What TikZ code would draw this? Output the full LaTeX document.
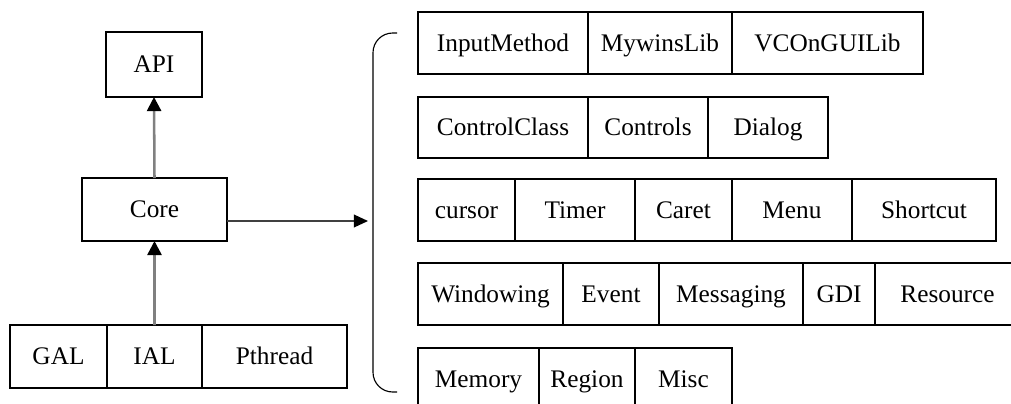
\documentclass[tikz,border=0pt]{standalone}
\usepackage{fontspec}
\setmainfont{Liberation Serif}
\usetikzlibrary{positioning,arrows.meta}
\newcommand{\ux}{0.025cm}

\begin{document}
\begin{tikzpicture}[x=\ux, y=-\ux,
    cell/.style={draw, line width=0.8pt, outer sep=0pt, inner sep=0pt,
      text height=13pt, text depth=1.5pt,
      minimum height=62*\ux, minimum width=#1*\ux, font=\fontsize{18}{20}\selectfont},
    up/.style={draw=gray, line width=1.8pt, -{Triangle[length=10pt,width=10pt,color=black]}},
    go/.style={draw=black!75, line width=1.1pt, -{Triangle[length=10pt,width=9pt,color=black]}}]
  \useasboundingbox (0,0) rectangle (1011,403);
  \clip (0,0) rectangle (1011,403);

  \node[cell=96, minimum height=65*\ux] (api) at (154,64.5) {API};
  \node[cell=145, minimum height=63*\ux] (core) at (154.5,209.5) {Core};
  \node[cell=97, minimum height=63*\ux, anchor=west] (gal) at (10,356.5) {GAL};
  \node[cell=95, minimum height=63*\ux, right=0pt of gal] (ial) {IAL};
  \node[cell=145, minimum height=63*\ux, right=0pt of ial] (pthread) {Pthread};

  \draw[up] (ial.north) -- (core.south);
  \draw[up] (core.north) -- (api.south);
  \coordinate (tip) at (368,221);
  \draw[go] (core.east |- tip) -- (tip);
  \draw[line width=0.8pt, rounded corners=14pt] (397,33) -| (373,221) |- (397,392);

  \node[cell=170, anchor=west] (inmeth) at (418,43) {InputMethod};
  \node[cell=144, right=0pt of inmeth] (mywins) {MywinsLib};
  \node[cell=191, right=0pt of mywins] (vcon) {VCOnGUILib};

  \node[cell=170, minimum height=61*\ux, anchor=west] (ctlcls) at (418,127.5) {ControlClass};
  \node[cell=120, minimum height=61*\ux, right=0pt of ctlcls] (ctls) {Controls};
  \node[cell=120, minimum height=61*\ux, right=0pt of ctls] (dialog) {Dialog};

  \node[cell=97, anchor=west] (cursor) at (418,210) {cursor};
  \node[cell=120, right=0pt of cursor] (timer) {Timer};
  \node[cell=97, right=0pt of timer] (caret) {Caret};
  \node[cell=120, right=0pt of caret] (menu) {Menu};
  \node[cell=144, right=0pt of menu] (shortcut) {Shortcut};

  \node[cell=145, anchor=west] (winding) at (418,294) {Windowing};
  \node[cell=96, right=0pt of winding] (event) {Event};
  \node[cell=144, right=0pt of event] (msging) {Messaging};
  \node[cell=72, right=0pt of msging] (gdi) {GDI};
  \node[cell=145, right=0pt of gdi] (res) {Resource};

  \node[cell=121, anchor=west] (mem) at (418,379) {Memory};
  \node[cell=96, right=0pt of mem] (region) {Region};
  \node[cell=97, right=0pt of region] (misc) {Misc};
\end{tikzpicture}
\end{document}
